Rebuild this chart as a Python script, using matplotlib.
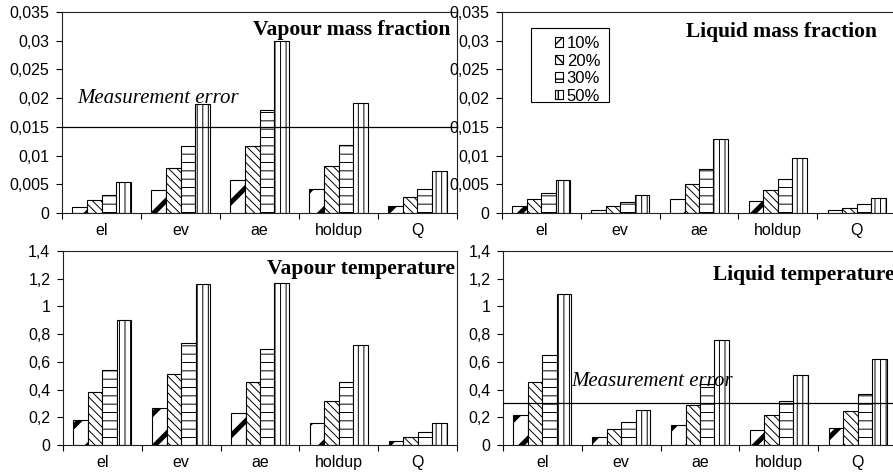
import numpy as np
import matplotlib
matplotlib.use("Agg")
import matplotlib.pyplot as plt
from matplotlib.patches import Rectangle

categories = ["el", "ev", "ae", "holdup", "Q"]
series = ["10%", "20%", "30%", "50%"]

# one row per series (10%, 20%, 30%, 50%), one column per category
vapour_mass = [
    [0.0010, 0.0040, 0.0057, 0.0041, 0.0013],
    [0.0023, 0.0079, 0.0116, 0.0082, 0.0027],
    [0.0032, 0.0116, 0.0179, 0.0119, 0.0042],
    [0.0054, 0.0189, 0.0299, 0.0192, 0.0073],
]
liquid_mass = [
    [0.0013, 0.0006, 0.0024, 0.0021, 0.0005],
    [0.0025, 0.0013, 0.0050, 0.0040, 0.0009],
    [0.0035, 0.0019, 0.0076, 0.0060, 0.0016],
    [0.0058, 0.0032, 0.0128, 0.0095, 0.0026],
]
vapour_temp = [
    [0.178, 0.264, 0.228, 0.161, 0.029],
    [0.379, 0.509, 0.456, 0.314, 0.060],
    [0.540, 0.737, 0.691, 0.458, 0.091],
    [0.905, 1.164, 1.171, 0.725, 0.161],
]
liquid_temp = [
    [0.218, 0.060, 0.142, 0.106, 0.122],
    [0.458, 0.115, 0.288, 0.216, 0.245],
    [0.653, 0.163, 0.439, 0.314, 0.367],
    [1.092, 0.250, 0.756, 0.506, 0.619],
]
mass_error = 0.015
temp_error = 0.3

mass_ticks = [0, 0.005, 0.01, 0.015, 0.02, 0.025, 0.03, 0.035]
mass_labels = ["0", "0,005", "0,01", "0,015", "0,02", "0,025", "0,03", "0,035"]
temp_ticks = [0, 0.2, 0.4, 0.6, 0.8, 1.0, 1.2, 1.4]
temp_labels = ["0", "0,2", "0,4", "0,6", "0,8", "1", "1,2", "1,4"]

hatches = ["/", "\\\\\\\\", "--", "|||"]
hatch_lw = [3.5, 0.7, 0.7, 0.7]

W, H = 893, 473
plt.rcParams["font.family"] = ["Liberation Sans", "DejaVu Sans"]
fig = plt.figure(figsize=(W / 100, H / 100), dpi=100)


def px_axes(left, top, right, bottom):
    return fig.add_axes([left / W, 1 - bottom / H, (right - left) / W, (bottom - top) / H])


def draw_panel(ax, data, ticks, labels):
    x = np.arange(len(categories))
    bw = 0.184
    bars = []
    for i, vals in enumerate(data):
        b = ax.bar(x + (i - 1.5) * bw, vals, bw, color="white", edgecolor="black",
                   linewidth=0.8, hatch=hatches[i], zorder=2)
        for p in b.patches:
            if hasattr(p, "set_hatch_linewidth"):
                p.set_hatch_linewidth(hatch_lw[i])
        bars.append(b)
    ax.set_xlim(-0.5, len(categories) - 0.5)
    ax.set_ylim(ticks[0], ticks[-1])
    ax.set_xticks(x)
    ax.set_xticklabels(categories, fontsize=11.5)
    ax.set_xticks(np.arange(len(categories) + 1) - 0.5, minor=True)
    ax.tick_params(axis="x", which="major", length=0, pad=7)
    ax.tick_params(axis="x", which="minor", length=4, width=0.8, direction="out")
    ax.set_yticks(ticks)
    ax.set_yticklabels(labels, fontsize=11.5)
    ax.tick_params(axis="y", length=4, width=0.8, direction="out", pad=5)
    for s in ax.spines.values():
        s.set_linewidth(0.8)
        s.set_color("#222222")
    ax.patch.set_alpha(0)
    return bars


ax1 = px_axes(62, 12, 457, 213)
ax2 = px_axes(502, 12, 896, 213)
ax3 = px_axes(63, 251, 457, 445)
ax4 = px_axes(503, 251, 897, 445)

bars = draw_panel(ax1, vapour_mass, mass_ticks, mass_labels)
draw_panel(ax2, liquid_mass, mass_ticks, mass_labels)
draw_panel(ax3, vapour_temp, temp_ticks, temp_labels)
draw_panel(ax4, liquid_temp, temp_ticks, temp_labels)

title_font = dict(family=["Liberation Serif", "DejaVu Serif"], fontsize=15.5, fontweight="bold")
err_font = dict(family=["Liberation Serif", "DejaVu Serif"], fontsize=15, style="italic")

ax1.text(0.983, 0.91, "Vapour mass fraction", transform=ax1.transAxes,
         ha="right", va="center", **title_font)
ax2.text(0.952, 0.90, "Liquid mass fraction", transform=ax2.transAxes,
         ha="right", va="center", **title_font)
ax3.text(0.518, 0.905, "Vapour temperature", transform=ax3.transAxes,
         ha="left", va="center", clip_on=True, **title_font)
t4 = ax4.text(0.533, 0.877, "Liquid temperature", transform=ax4.transAxes,
              ha="left", va="center", **title_font)
t4.set_clip_path(Rectangle((0, 1 - 281 / H), 1, 281 / H, transform=fig.transFigure))

ax1.axhline(mass_error, color="black", linewidth=0.9, zorder=3)
ax1.text(0.038, 0.020, "Measurement error", transform=ax1.get_yaxis_transform(),
         ha="left", va="center", zorder=4, **err_font)
ax4.axhline(temp_error, color="black", linewidth=0.9, zorder=3)
ax4.text(0.173, 0.455, "Measurement error", transform=ax4.get_yaxis_transform(),
         ha="left", va="center", zorder=4, **err_font)

# legend box drawn by hand, Excel-style wide frame
ax2.add_patch(Rectangle((0.0736, 0.5522), 0.198, 0.3682, transform=ax2.transAxes,
                        facecolor="white", edgecolor="black", linewidth=0.8,
                        zorder=5, clip_on=False))
leg = ax2.legend(bars, series, loc="upper left", bbox_to_anchor=(0.1345, 0.88),
                 fontsize=12, frameon=False, handlelength=0.5, handleheight=0.5,
                 handletextpad=0.2, labelspacing=0.15, borderpad=0, borderaxespad=0)
leg.set_zorder(6)

fig.savefig("out.png", dpi=100)
